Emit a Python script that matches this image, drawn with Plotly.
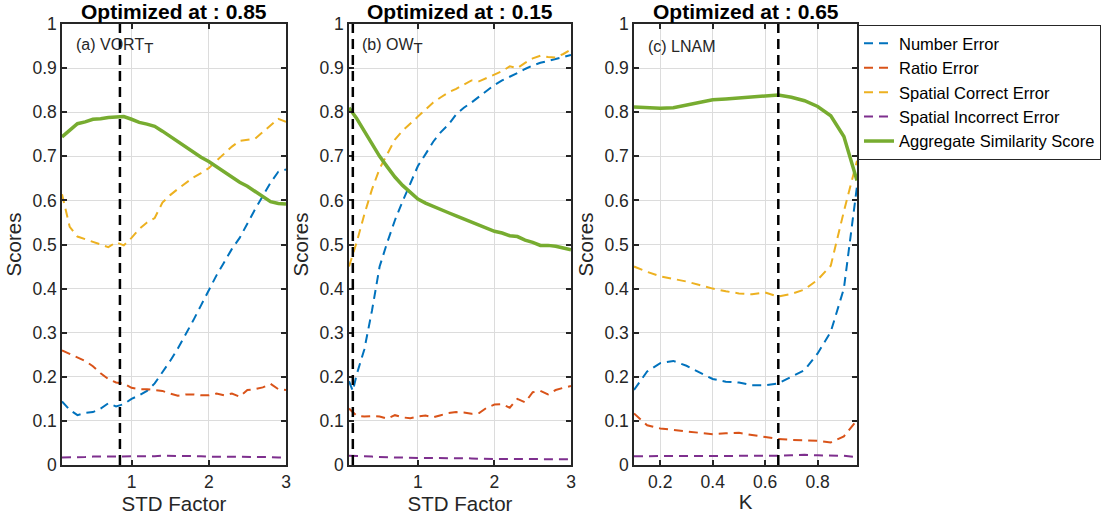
import plotly.graph_objects as go

# ---------------- data ----------------
series_names = ["Number Error", "Ratio Error", "Spatial Correct Error",
                "Spatial Incorrect Error", "Aggregate Similarity Score"]
series_colors = ["#0072BD", "#D95319", "#EDB120", "#7E2F8E", "#77AC30"]

titles = ["Optimized at : 0.85", "Optimized at : 0.15", "Optimized at : 0.65"]
opt_values = [0.85, 0.15, 0.65]
panel_labels = ["(a) VORT<sub><span style='font-size:15px'>T</span></sub>",
                "(b) OW<sub><span style='font-size:15px'>T</span></sub>",
                "(c) LNAM"]
x_titles = ["STD Factor", "STD Factor", "K"]

# Panel (a)
a_x = [0.1, 0.2, 0.3, 0.4, 0.5, 0.6, 0.7, 0.8, 0.9, 1.0, 1.1, 1.2, 1.3, 1.4, 1.5,
       1.6, 1.7, 1.8, 1.9, 2.0, 2.1, 2.2, 2.3, 2.4, 2.5, 2.6, 2.7, 2.8, 2.9, 3.0]
a_number = [0.144, 0.125, 0.113, 0.118, 0.120, 0.128, 0.140, 0.133, 0.138, 0.150,
            0.158, 0.168, 0.185, 0.210, 0.236, 0.264, 0.295, 0.328, 0.362, 0.397,
            0.430, 0.460, 0.490, 0.515, 0.548, 0.580, 0.610, 0.640, 0.665, 0.670]
a_ratio = [0.260, 0.252, 0.245, 0.236, 0.224, 0.208, 0.195, 0.187, 0.185, 0.175,
           0.172, 0.172, 0.170, 0.168, 0.162, 0.157, 0.160, 0.160, 0.158, 0.158,
           0.162, 0.158, 0.162, 0.155, 0.170, 0.172, 0.176, 0.184, 0.172, 0.170]
a_spcorr = [0.614, 0.540, 0.518, 0.512, 0.506, 0.500, 0.494, 0.505, 0.498, 0.515,
            0.535, 0.550, 0.560, 0.595, 0.612, 0.626, 0.640, 0.652, 0.662, 0.673,
            0.690, 0.707, 0.722, 0.735, 0.737, 0.740, 0.755, 0.770, 0.785, 0.778]
a_spinc = [0.017, 0.017, 0.018, 0.018, 0.019, 0.019, 0.019, 0.020, 0.020, 0.020,
           0.020, 0.020, 0.020, 0.021, 0.021, 0.021, 0.020, 0.020, 0.020, 0.019,
           0.019, 0.019, 0.019, 0.019, 0.018, 0.018, 0.018, 0.018, 0.017, 0.017]
a_agg = [0.744, 0.760, 0.774, 0.778, 0.784, 0.785, 0.788, 0.789, 0.790, 0.784,
         0.777, 0.773, 0.768, 0.757, 0.745, 0.733, 0.721, 0.709, 0.698, 0.688,
         0.676, 0.665, 0.653, 0.641, 0.632, 0.621, 0.610, 0.597, 0.593, 0.592]

# Panel (b)
b_x = [0.1, 0.15, 0.2, 0.3, 0.4, 0.5, 0.6, 0.7, 0.8, 0.9, 1.0, 1.1, 1.2, 1.3, 1.4,
       1.5, 1.6, 1.7, 1.8, 1.9, 2.0, 2.1, 2.2, 2.3, 2.4, 2.5, 2.6, 2.7, 2.8, 2.9, 3.0]
b_number = [0.190, 0.168, 0.205, 0.262, 0.350, 0.450, 0.505, 0.555, 0.598, 0.640,
            0.678, 0.705, 0.733, 0.755, 0.772, 0.795, 0.810, 0.822, 0.835, 0.848,
            0.862, 0.872, 0.880, 0.889, 0.898, 0.906, 0.912, 0.916, 0.920, 0.925, 0.930]
b_ratio = [0.128, 0.120, 0.112, 0.110, 0.111, 0.110, 0.105, 0.113, 0.108, 0.106,
           0.110, 0.112, 0.108, 0.113, 0.118, 0.120, 0.119, 0.116, 0.118, 0.130,
           0.137, 0.138, 0.130, 0.150, 0.142, 0.165, 0.168, 0.160, 0.170, 0.175, 0.179]
b_spcorr = [0.450, 0.475, 0.505, 0.568, 0.625, 0.672, 0.705, 0.738, 0.758, 0.775,
            0.790, 0.806, 0.822, 0.834, 0.845, 0.853, 0.862, 0.872, 0.870, 0.878,
            0.885, 0.893, 0.904, 0.900, 0.912, 0.922, 0.928, 0.925, 0.924, 0.932, 0.942]
b_spinc = [0.021, 0.021, 0.020, 0.020, 0.019, 0.018, 0.018, 0.017, 0.017, 0.016,
           0.016, 0.016, 0.016, 0.015, 0.015, 0.015, 0.015, 0.015, 0.014, 0.014,
           0.014, 0.014, 0.014, 0.014, 0.014, 0.014, 0.013, 0.013, 0.013, 0.013, 0.013]
b_agg = [0.810, 0.798, 0.786, 0.757, 0.727, 0.700, 0.676, 0.653, 0.634, 0.618,
         0.603, 0.594, 0.586, 0.578, 0.572, 0.565, 0.558, 0.552, 0.545, 0.537,
         0.530, 0.526, 0.520, 0.518, 0.510, 0.505, 0.498, 0.498, 0.496, 0.492, 0.488]

# Panel (c)
c_x = [0.10, 0.15, 0.20, 0.25, 0.30, 0.35, 0.40, 0.45, 0.50, 0.55, 0.60, 0.65,
       0.70, 0.75, 0.80, 0.85, 0.90, 0.95]
c_number = [0.170, 0.212, 0.231, 0.236, 0.225, 0.210, 0.195, 0.189, 0.187, 0.181,
            0.181, 0.185, 0.200, 0.215, 0.253, 0.302, 0.400, 0.632]
c_ratio = [0.117, 0.090, 0.083, 0.079, 0.076, 0.073, 0.070, 0.072, 0.073, 0.068,
           0.063, 0.059, 0.057, 0.056, 0.055, 0.051, 0.065, 0.102]
c_spcorr = [0.450, 0.438, 0.428, 0.422, 0.416, 0.408, 0.400, 0.394, 0.389, 0.387,
            0.391, 0.382, 0.388, 0.398, 0.420, 0.452, 0.575, 0.690]
c_spinc = [0.020, 0.020, 0.020, 0.020, 0.020, 0.020, 0.020, 0.021, 0.021, 0.021,
           0.021, 0.021, 0.022, 0.023, 0.022, 0.022, 0.021, 0.018]
c_agg = [0.812, 0.810, 0.809, 0.810, 0.816, 0.822, 0.828, 0.830, 0.832, 0.834,
         0.836, 0.839, 0.834, 0.826, 0.813, 0.792, 0.745, 0.645]

x_ranges = [[0.1, 3.0], [0.1, 3.0], [0.1, 0.95]]
x_tickvals = [[1, 2, 3], [1, 2, 3], [0.2, 0.4, 0.6, 0.8]]
y_tickvals = [0, 0.1, 0.2, 0.3, 0.4, 0.5, 0.6, 0.7, 0.8, 0.9, 1.0]
y_ticktext = ["0", "0.1", "0.2", "0.3", "0.4", "0.5", "0.6", "0.7", "0.8", "0.9", "1"]

panels = [
    (a_x, [a_number, a_ratio, a_spcorr, a_spinc, a_agg]),
    (b_x, [b_number, b_ratio, b_spcorr, b_spinc, b_agg]),
    (c_x, [c_number, c_ratio, c_spcorr, c_spinc, c_agg]),
]

# ---------------- layout geometry ----------------
W, H = 1107, 519
x_domains_px = [(62, 286), (349, 571), (634, 857)]
y_top_px, y_bot_px = 24, 465
FONT = "Liberation Sans, Arial, Helvetica, sans-serif"
AXC = "#262626"

fig = go.Figure()

for i, (xs, ys_list) in enumerate(panels):
    sfx = "" if i == 0 else str(i + 1)
    for j, ys in enumerate(ys_list):
        is_agg = (j == 4)
        fig.add_trace(go.Scatter(
            x=xs, y=ys, mode="lines", name=series_names[j],
            xaxis="x" + sfx, yaxis="y" + sfx,
            line=dict(color=series_colors[j], width=3.5 if is_agg else 2,
                      dash="solid" if is_agg else "9px,6px"),
            showlegend=(i == 0), legendrank=j,
            hoverinfo="skip",
        ))

shapes = []
annotations = []
for i in range(3):
    sfx = "" if i == 0 else str(i + 1)
    x0, x1 = x_domains_px[i]
    fig.layout["xaxis" + sfx] = dict(
        domain=[x0 / W, x1 / W], range=x_ranges[i], anchor="y" + sfx,
        tickvals=x_tickvals[i], ticks="inside", ticklen=5, tickwidth=1.5,
        tickcolor=AXC, showline=True, linecolor=AXC, linewidth=1.5,
        mirror="ticks", showgrid=True, gridcolor="#DCDCDC", gridwidth=1,
        zeroline=False, automargin=False,
        tickfont=dict(size=17.5, color=AXC, family=FONT),
        title=dict(text=x_titles[i], font=dict(size=20.5, color=AXC, family=FONT),
                   standoff=4),
    )
    fig.layout["yaxis" + sfx] = dict(
        domain=[1 - y_bot_px / H, 1 - y_top_px / H], range=[0, 1],
        anchor="x" + sfx, tickvals=y_tickvals, ticktext=y_ticktext,
        ticks="inside", ticklen=5, tickwidth=1.5, tickcolor=AXC,
        showline=True, linecolor=AXC, linewidth=1.5, mirror="ticks",
        showgrid=True, gridcolor="#DCDCDC", gridwidth=1, zeroline=False,
        automargin=False,
        tickfont=dict(size=17.5, color=AXC, family=FONT),
        title=dict(text="Scores", font=dict(size=20.5, color=AXC, family=FONT),
                   standoff=5),
    )
    shapes.append(dict(type="line", xref="x" + sfx, yref="y" + sfx + " domain",
                       x0=opt_values[i], x1=opt_values[i], y0=0, y1=1,
                       line=dict(color="black", width=2.5, dash="10px,6px"),
                       layer="above"))
    annotations.append(dict(
        text="<b>" + titles[i] + "</b>", xref="paper", yref="paper",
        x=(x0 + x1) / 2 / W, y=1 - 12 / H, xanchor="center", yanchor="middle",
        showarrow=False, font=dict(size=21, color="black", family=FONT)))
    label_x = [74, 360, 646][i]
    annotations.append(dict(
        text=panel_labels[i], xref="paper", yref="paper",
        x=label_x / W, y=1 - 46 / H, xanchor="left", yanchor="middle",
        showarrow=False, font=dict(size=16, color=AXC, family=FONT)))

fig.update_layout(
    width=W, height=H,
    margin=dict(l=0, r=0, t=0, b=0, autoexpand=False),
    paper_bgcolor="white", plot_bgcolor="white",
    font=dict(family=FONT, color=AXC),
    shapes=shapes, annotations=annotations,
    legend=dict(x=858 / W, y=1 - 25 / H, xanchor="left", yanchor="top",
                bgcolor="white", bordercolor=AXC, borderwidth=1,
                font=dict(size=16.5, color="black", family=FONT),
                traceorder="normal", tracegroupgap=0, itemwidth=30),
)

fig.write_html("out.html", config={"displayModeBar": False},
               post_script="document.body.style.margin='0';")
